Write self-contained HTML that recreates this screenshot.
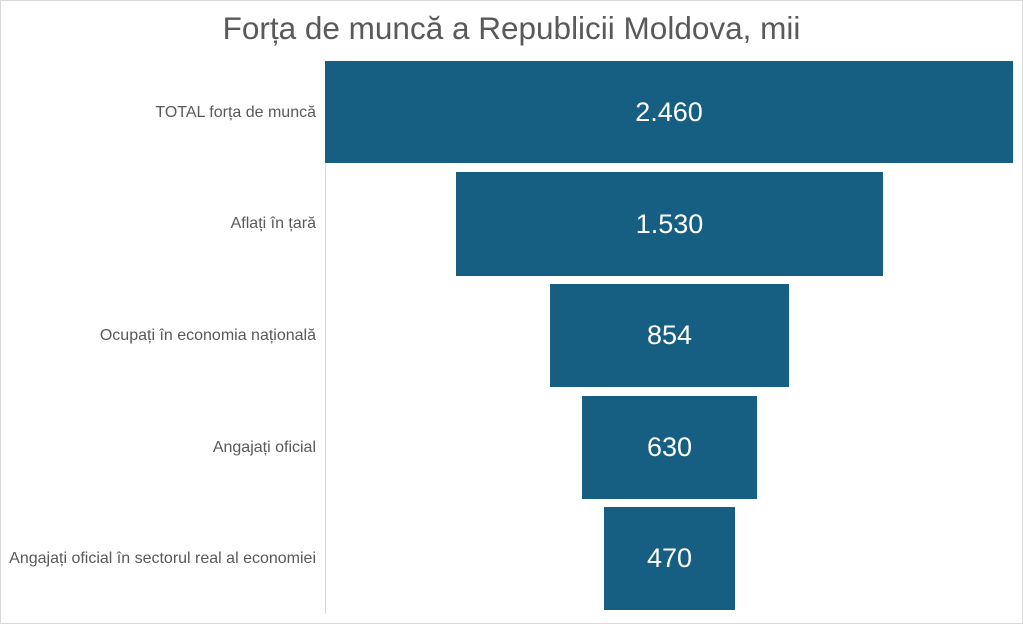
<!DOCTYPE html>
<html><head><meta charset="utf-8"><style>
body{margin:0;width:1023px;height:624px;background:#fff;font-family:"Liberation Sans",sans-serif;overflow:hidden}
.frame{position:absolute;left:0;top:0;width:1021px;height:622px;border:1px solid #d9d9d9}
.title{position:absolute;left:0;width:1023px;top:10px;text-align:center;font-size:31.5px;color:#595959}
.bar{position:absolute;background:#175f82;color:#fff;font-size:27px;display:flex;align-items:center;justify-content:center}
.lab{position:absolute;right:707px;font-size:16px;color:#595959;white-space:nowrap;transform:translateY(-50%)}
.axis{position:absolute;left:325px;top:61px;width:1px;height:553px;background:#d9d9d9}
</style></head><body>
<div class="frame"></div>
<div class="title">Forța de muncă a Republicii Moldova, mii</div>
<div class="axis"></div>
<div class="bar" style="left:325px;top:61px;width:688px;height:102px">2.460</div>
<div class="bar" style="left:456px;top:172px;width:427px;height:104px">1.530</div>
<div class="bar" style="left:550px;top:284px;width:239px;height:103px">854</div>
<div class="bar" style="left:582px;top:396px;width:175px;height:103px">630</div>
<div class="bar" style="left:604px;top:507px;width:131px;height:103px">470</div>
<div class="lab" style="top:113px">TOTAL forța de muncă</div>
<div class="lab" style="top:224px">Aflați în țară</div>
<div class="lab" style="top:336px">Ocupați în economia națională</div>
<div class="lab" style="top:448px">Angajați oficial</div>
<div class="lab" style="top:559px">Angajați oficial în sectorul real al economiei</div>
</body></html>
